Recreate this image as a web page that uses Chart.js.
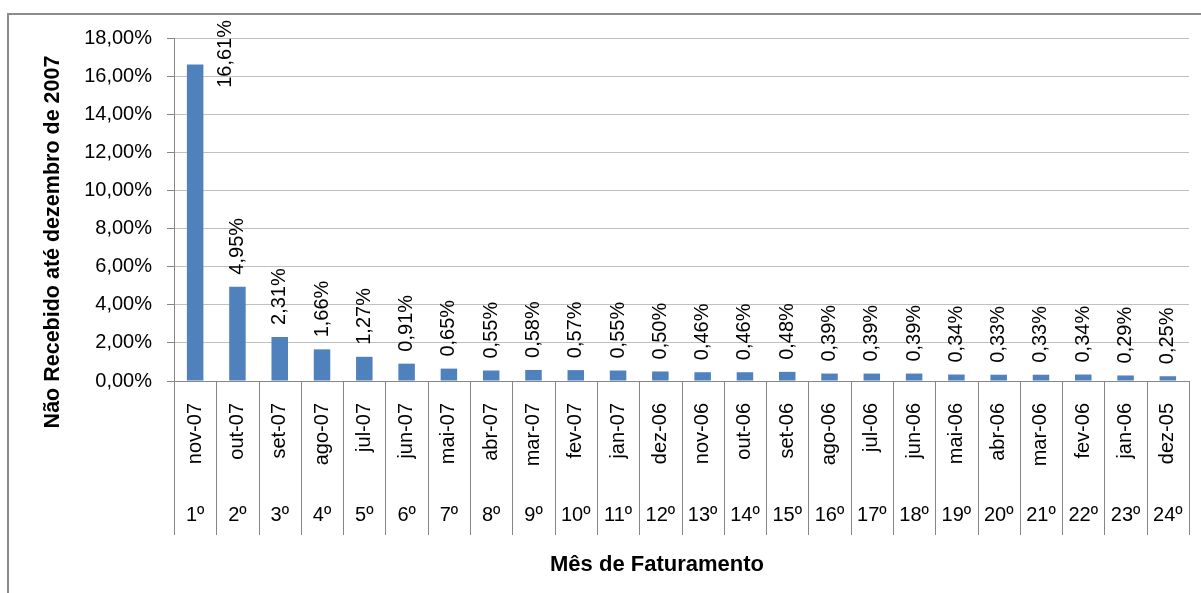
<!DOCTYPE html>
<html>
<head>
<meta charset="utf-8">
<script src="https://cdn.jsdelivr.net/npm/chart.js"></script>
<style>
  body { margin: 0; background: #fff; }
  canvas { display: block; }
</style>
</head>
<body>
<canvas id="myChart" width="1201" height="593"></canvas>
<script>
    // data
    const months = ['nov-07', 'out-07', 'set-07', 'ago-07', 'jul-07', 'jun-07', 'mai-07', 'abr-07',
        'mar-07', 'fev-07', 'jan-07', 'dez-06', 'nov-06', 'out-06', 'set-06', 'ago-06',
        'jul-06', 'jun-06', 'mai-06', 'abr-06', 'mar-06', 'fev-06', 'jan-06', 'dez-05'];
    const ordinals = ['1º', '2º', '3º', '4º', '5º', '6º', '7º', '8º', '9º', '10º', '11º', '12º',
        '13º', '14º', '15º', '16º', '17º', '18º', '19º', '20º', '21º', '22º', '23º', '24º'];
    const naoRecebido = [16.61, 4.95, 2.31, 1.66, 1.27, 0.91, 0.65, 0.55, 0.58, 0.57, 0.55, 0.50,
        0.46, 0.46, 0.48, 0.39, 0.39, 0.39, 0.34, 0.33, 0.33, 0.34, 0.29, 0.25];
    const yTitle = 'Não Recebido até dezembro de 2007';
    const xTitle = 'Mês de Faturamento';

    const FONT = "'Liberation Sans', Arial, sans-serif";
    Chart.defaults.font.family = FONT;
    Chart.defaults.color = '#000';

    const pct = v => v.toFixed(2).replace('.', ',') + '%';

    // outer frame + axis titles
    const framePlugin = {
        id: 'frame',
        beforeDraw(chart) {
            const ctx = chart.ctx;
            ctx.save();
            ctx.fillStyle = '#fff';
            ctx.fillRect(0, 0, chart.width, chart.height);
            ctx.strokeStyle = '#8c8c8c';
            ctx.lineWidth = 2;
            ctx.strokeRect(8, 14, chart.width + 20, chart.height + 20);
            ctx.restore();
        },
        afterDraw(chart) {
            const ctx = chart.ctx;
            ctx.save();
            ctx.fillStyle = '#000';
            ctx.font = 'bold 21.5px ' + FONT;
            ctx.textAlign = 'center';
            ctx.textBaseline = 'middle';
            ctx.translate(53, 242);
            ctx.rotate(-Math.PI / 2);
            ctx.fillText(yTitle, 0, 0);
            ctx.restore();

            ctx.save();
            ctx.fillStyle = '#000';
            ctx.font = 'bold 22px ' + FONT;
            ctx.textAlign = 'center';
            ctx.textBaseline = 'middle';
            ctx.fillText(xTitle, 657, 565);
            ctx.restore();
        }
    };

    // second category row (ordinal) with separators
    const groupAxisPlugin = {
        id: 'groupAxis',
        afterDraw(chart) {
            const x = chart.scales.x;
            const ctx = chart.ctx;
            const half = (x.getPixelForValue(1) - x.getPixelForValue(0)) / 2;
            const top = chart.chartArea.bottom;
            ctx.save();
            ctx.strokeStyle = '#868686';
            ctx.lineWidth = 1;
            for (let i = 0; i <= ordinals.length; i++) {
                const px = Math.round(x.getPixelForValue(i) - half) + 0.5;
                ctx.beginPath();
                ctx.moveTo(px, top);
                ctx.lineTo(px, top + 154);
                ctx.stroke();
            }
            ctx.fillStyle = '#000';
            ctx.font = '20px ' + FONT;
            ctx.textAlign = 'center';
            ctx.textBaseline = 'middle';
            ordinals.forEach((o, i) => {
                ctx.fillText(o, x.getPixelForValue(i), top + 134);
            });
            ctx.restore();
        }
    };

    // rotated value labels above bars
    const valueLabelPlugin = {
        id: 'valueLabels',
        afterDatasetsDraw(chart) {
            const ctx = chart.ctx;
            const meta = chart.getDatasetMeta(0);
            ctx.save();
            ctx.fillStyle = '#000';
            ctx.font = '20px ' + FONT;
            ctx.textAlign = 'left';
            ctx.textBaseline = 'middle';
            meta.data.forEach((bar, i) => {
                const text = pct(naoRecebido[i]);
                const w = ctx.measureText(text).width;
                let lx = bar.x;
                let ly = bar.y - 12;
                if (ly - w < 20) {
                    // no room above the bar, push it to the side
                    ly = 20 + w;
                    lx = bar.x + 30;
                }
                ctx.save();
                ctx.translate(lx, ly);
                ctx.rotate(-Math.PI / 2);
                ctx.fillText(text, 0, 0);
                ctx.restore();
            });
            ctx.restore();
        }
    };

    const ctx = document.getElementById('myChart');

    const myChart = new Chart(ctx, {
        type: 'bar',
        data: {
            labels: months,
            datasets: [{
                label: yTitle,
                data: naoRecebido,
                backgroundColor: '#4f81bd',
                borderWidth: 0,
                categoryPercentage: 1,
                barPercentage: 0.39
            }]
        },
        options: {
            responsive: false,
            animation: false,
            layout: {
                padding: { top: 38, right: 12, bottom: 0, left: 0 }
            },
            plugins: {
                legend: { display: false },
                tooltip: { enabled: false }
            },
            scales: {
                x: {
                    grid: { display: false, drawTicks: false },
                    border: { display: true, color: '#868686', width: 1 },
                    ticks: {
                        autoSkip: false,
                        minRotation: 90,
                        maxRotation: 90,
                        padding: 22,
                        font: { size: 20 },
                        color: '#000'
                    },
                    afterFit(scale) {
                        scale.height = 212;
                        scale.paddingLeft = 0;
                        scale.paddingRight = 0;
                    }
                },
                y: {
                    min: 0,
                    max: 18,
                    grid: {
                        color: '#c0c0c0',
                        tickColor: '#868686',
                        tickLength: 7
                    },
                    border: { display: true, color: '#868686', width: 1 },
                    ticks: {
                        stepSize: 2,
                        padding: 15,
                        font: { size: 20 },
                        color: '#000',
                        callback: v => pct(v)
                    },
                    afterFit(scale) {
                        scale.width = 174;
                    }
                }
            }
        },
        plugins: [framePlugin, groupAxisPlugin, valueLabelPlugin]
    });
</script>
</body>
</html>
